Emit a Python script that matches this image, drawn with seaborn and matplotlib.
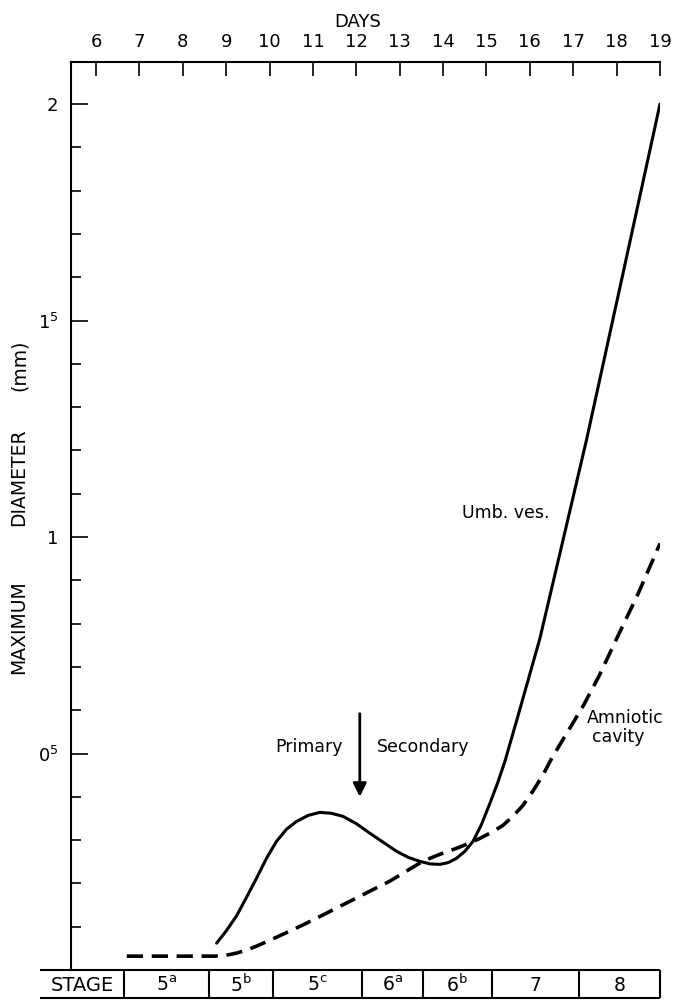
import matplotlib
matplotlib.use("Agg")
import matplotlib.pyplot as plt
from matplotlib.ticker import FixedLocator, FixedFormatter, MultipleLocator
import seaborn as sns

# -----------------------------
# Data
# -----------------------------
umb_days = [8.78, 9.0, 9.24, 9.47, 9.70, 9.93, 10.16, 10.39, 10.62, 10.89,
            11.16, 11.42, 11.69, 12.0, 12.31, 12.62, 12.93, 13.2, 13.46, 13.7,
            13.93, 14.12, 14.31, 14.5, 14.69, 14.88, 15.08, 15.25, 15.42, 15.69,
            16.23, 16.77, 17.31, 18.15, 19.0]
umb_diam = [0.062, 0.09, 0.125, 0.168, 0.212, 0.258, 0.297, 0.325, 0.343, 0.357,
            0.364, 0.362, 0.355, 0.338, 0.316, 0.295, 0.274, 0.26, 0.251, 0.245,
            0.244, 0.248, 0.258, 0.274, 0.297, 0.335, 0.385, 0.43, 0.48, 0.574,
            0.765, 0.995, 1.226, 1.61, 2.0]

amn_days = [6.71, 8.74, 9.0, 9.24, 9.47, 9.70, 10.08, 10.47, 10.85, 11.23,
            11.62, 12.0, 12.39, 12.77, 13.15, 13.53, 13.92, 14.31, 14.58, 14.85,
            15.12, 15.38, 15.61, 15.84, 16.07, 16.3, 16.5, 16.69, 17.23, 17.6,
            18.0, 18.5, 19.0]
amn_diam = [0.032, 0.032, 0.034, 0.039, 0.046, 0.055, 0.072, 0.09, 0.108, 0.127,
            0.147, 0.166, 0.186, 0.205, 0.228, 0.251, 0.267, 0.281, 0.292, 0.304,
            0.318, 0.334, 0.355, 0.38, 0.413, 0.45, 0.488, 0.52, 0.61, 0.68,
            0.765, 0.87, 0.985]

day_ticks = list(range(6, 20))
y_major = [0.5, 1.0, 1.5, 2.0]
y_major_labels = ["0$^5$", "1", "1$^5$", "2"]

stage_edges = [4.71, 6.65, 8.6, 10.08, 12.13, 13.53, 15.12, 17.13, 19.0]
stage_labels = ["STAGE", "5$^a$", "5$^b$", "5$^c$", "6$^a$", "6$^b$", "7", "8"]

# -----------------------------
# Style
# -----------------------------
sns.set_theme(style="white")
plt.rcParams["font.family"] = ["DejaVu Sans"]
plt.rcParams["mathtext.default"] = "regular"
plt.rcParams["text.color"] = "black"
plt.rcParams["axes.labelcolor"] = "black"
plt.rcParams["xtick.color"] = "black"
plt.rcParams["ytick.color"] = "black"

fig = plt.figure(figsize=(6.73, 10), dpi=100)
ax = fig.add_axes([70.7 / 673, 0.03, (660 - 70.7) / 673, 0.908])

sns.lineplot(x=umb_days, y=umb_diam, ax=ax, color="black", lw=2.2)
sns.lineplot(x=amn_days, y=amn_diam, ax=ax, color="black", lw=2.6)
ax.lines[-1].set_dashes((4.5, 2.4))

ax.set_xlim(5.417, 19.0)
ax.set_ylim(0, 2.097)

# axes / ticks
for side in ["right", "bottom"]:
    ax.spines[side].set_visible(False)
for side in ["left", "top"]:
    ax.spines[side].set_color("black")
    ax.spines[side].set_linewidth(1.5)

ax.xaxis.tick_top()
ax.xaxis.set_major_locator(FixedLocator(day_ticks))
ax.tick_params(axis="x", which="major", direction="in", length=10,
               width=1.2, pad=8, labelsize=13, colors="black")

ax.yaxis.set_major_locator(FixedLocator(y_major))
ax.yaxis.set_major_formatter(FixedFormatter(y_major_labels))
ax.yaxis.set_minor_locator(MultipleLocator(0.1))
ax.tick_params(axis="y", which="major", direction="in", length=12,
               width=1.2, pad=9, labelsize=13, colors="black", left=True)
ax.tick_params(axis="y", which="minor", direction="in", length=7,
               width=1.2, left=True)
ax.set_xlabel("")
ax.set_ylabel("")

# annotations
ax.text(16.46, 1.055, "Umb. ves.", ha="right", va="center", fontsize=12.5)
ax.text(17.31, 0.581, "Amniotic", ha="left", va="center", fontsize=12.5)
ax.text(17.43, 0.537, "cavity", ha="left", va="center", fontsize=12.5)
ax.text(10.91, 0.514, "Primary", ha="center", va="center", fontsize=12.5)
ax.text(13.53, 0.514, "Secondary", ha="center", va="center", fontsize=12.5)
ax.annotate("", xy=(12.08, 0.40), xytext=(12.08, 0.592),
            arrowprops=dict(arrowstyle="-|>", color="black", lw=2,
                            mutation_scale=20, shrinkA=0, shrinkB=0))

fig.text(358 / 673, 1 - 22 / 1000, "DAYS", ha="center", va="center",
         fontsize=13)
for word, ypx in [("MAXIMUM", 627), ("DIAMETER", 477), ("(mm)", 365)]:
    fig.text(19 / 673, 1 - ypx / 1000, word, rotation=90, ha="center",
             va="center", fontsize=13.5)

# -----------------------------
# Stage table
# -----------------------------
ax_t = fig.add_axes([40 / 673, 0.002, 620 / 673, 0.028])
ax_t.set_xlim(stage_edges[0], stage_edges[-1])
ax_t.set_ylim(0, 1)
ax_t.axis("off")
ax_t.hlines([0, 1], stage_edges[0], stage_edges[-1], color="black",
            lw=1.5, clip_on=False)
ax_t.vlines(stage_edges[1:], 0, 1, color="black", lw=1.5, clip_on=False)
for i, label in enumerate(stage_labels):
    mid = (stage_edges[i] + stage_edges[i + 1]) / 2
    ax_t.text(mid, 0.45, label, ha="center", va="center",
              fontsize=14 if i == 0 else 13.5)

fig.savefig("out.png", dpi=100)
plt.close(fig)
